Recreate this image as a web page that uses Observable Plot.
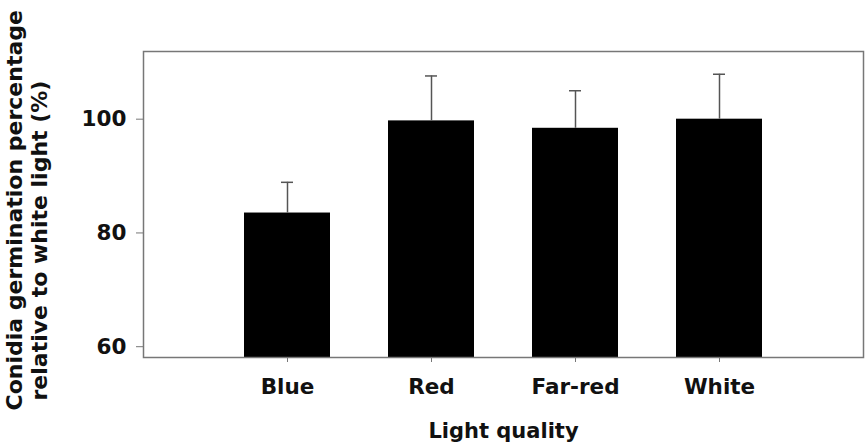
<!DOCTYPE html>
<html><head><meta charset="utf-8">
<script src="https://cdn.jsdelivr.net/npm/d3@7"></script>
<script src="https://cdn.jsdelivr.net/npm/@observablehq/plot@0.6"></script>
<style>body{margin:0;background:#fff} svg{display:block}</style>
</head><body><div id="chart"></div>
<script>
const categories = ["Blue", "Red", "Far-red", "White"];
const means = [83.5, 99.7, 98.4, 100.0];
const upperErrors = [88.9, 107.6, 105.0, 107.9];
const yTicks = [60, 80, 100];
const yDomain = [58.1, 111.9];
const xTitle = "Light quality";
const yTitleLines = ["Conidia germination percentage", "relative to white light (%)"];

const data = categories.map((c, i) => ({category: c, mean: means[i], upper: upperErrors[i], base: yDomain[0]}));

const chart = Plot.plot({
  width: 865, height: 445,
  marginLeft: 143, marginRight: 2, marginTop: 51, marginBottom: 88,
  style: {fontFamily: "'DejaVu Sans', Verdana, sans-serif", fontWeight: "bold", fontSize: "21px", color: "#111", background: "#fff"},
  x: {domain: categories, paddingInner: 0.4, paddingOuter: 0.7, label: null},
  y: {domain: yDomain, label: null},
  marks: [
    Plot.barY(data, {x: "category", y1: "base", y2: "mean", fill: "#000"}),
    Plot.ruleX(data, {x: "category", y1: "mean", y2: "upper", stroke: "#555", strokeWidth: 1.5}),
    Plot.tickY(data, {x: "category", y: "upper", stroke: "#555", strokeWidth: 1.5, insetLeft: 37, insetRight: 37}),
    Plot.frame({stroke: "#777", strokeWidth: 1.5}),
    Plot.axisY({ticks: yTicks, tickSize: 7, tickPadding: 10, stroke: "#777", fill: "#111", label: null, fontSize: 21.5}),
    Plot.axisX({tickSize: 5, tickPadding: 16, stroke: "#777", fill: "#111", label: null, fontSize: 21.5}),
    Plot.text([xTitle], {text: d => d, frameAnchor: "bottom", dy: 80, fill: "#111", fontSize: 21, fontWeight: "bold"}),
    Plot.text([yTitleLines[0]], {text: d => d, frameAnchor: "bottom-left", textAnchor: "start", rotate: -90, dx: -122, dy: 53, fill: "#111", fontSize: 22, fontWeight: "bold"}),
    Plot.text([yTitleLines[1]], {text: d => d, frameAnchor: "bottom-left", textAnchor: "start", rotate: -90, dx: -97, dy: 43, fill: "#111", fontSize: 22, fontWeight: "bold"})
  ]
});
document.getElementById("chart").appendChild(chart);
</script>
</body></html>
